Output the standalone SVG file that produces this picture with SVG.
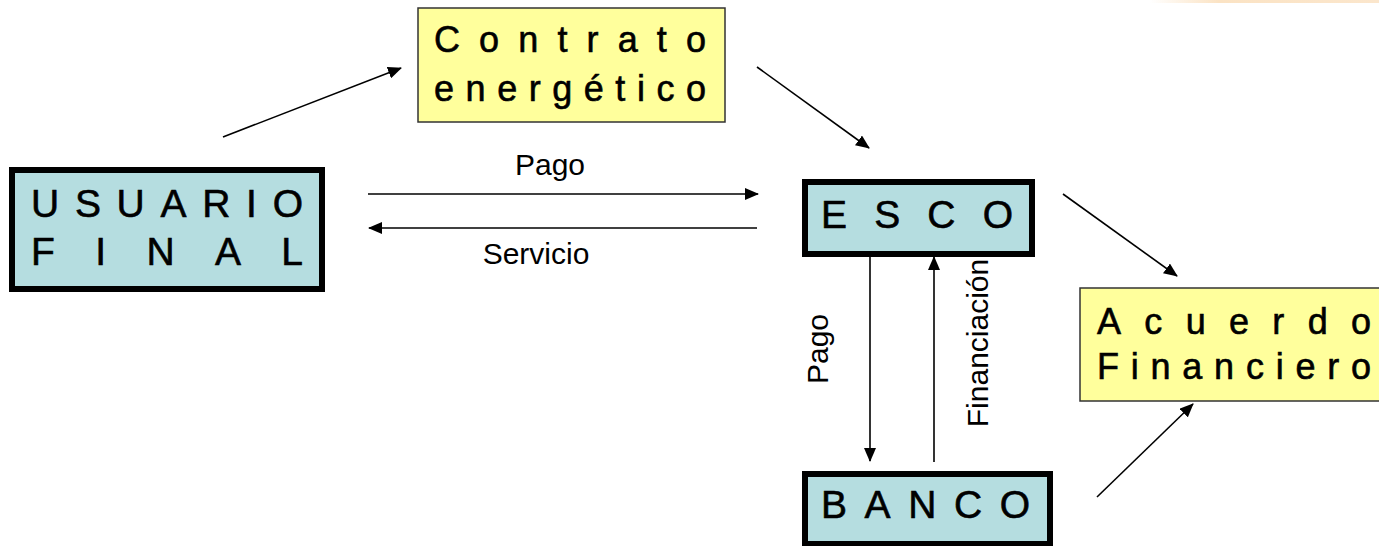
<svg xmlns="http://www.w3.org/2000/svg" width="1379" height="546" viewBox="0 0 1379 546">
<style>
.blue{fill:#B5DDE0;stroke:#000;stroke-width:6}
.yel{fill:#FFFF9C;stroke:#333;stroke-width:1.5}
.big{font-family:"Liberation Sans",Arial,sans-serif;font-size:39px;fill:#000;stroke:#000;stroke-width:0.6}
.mid{font-family:"Liberation Sans",Arial,sans-serif;font-size:36px;fill:#000;stroke:#000;stroke-width:0.6}
.lbl{font-family:"Liberation Sans",Arial,sans-serif;font-size:30px;fill:#000}
.con{stroke:#000;stroke-width:1.6;fill:none;marker-end:url(#ah)}
</style>
<defs>
<marker id="ah" markerUnits="userSpaceOnUse" markerWidth="14" markerHeight="12" refX="13" refY="6" orient="auto">
<path d="M0,0 L14,6 L0,12 Z" fill="#000"/>
</marker>
<linearGradient id="tg" x1="0" x2="1" y1="0" y2="0">
<stop offset="0" stop-color="#FBE3C4" stop-opacity="0"/>
<stop offset="0.3" stop-color="#FBE3C4"/>
<stop offset="1" stop-color="#FBE6CC"/>
</linearGradient>
</defs>
<rect x="0" y="0" width="1379" height="546" fill="#fff"/>
<rect x="1150" y="0" width="229" height="3" fill="url(#tg)"/>

<g id="contrato">
<rect class="yel" x="418" y="8" width="307" height="114"/>
<text class="mid" x="434" y="52" textLength="272" lengthAdjust="spacing">Contrato</text>
<text class="mid" x="434" y="101" textLength="272" lengthAdjust="spacing">energético</text>
</g>

<g id="usuario">
<rect class="blue" x="12" y="170" width="310" height="119"/>
<text class="big" x="31" y="217" textLength="272" lengthAdjust="spacing">USUARIO</text>
<text class="big" x="31" y="265" textLength="272" lengthAdjust="spacing">FINAL</text>
</g>

<g id="esco">
<rect class="blue" x="805" y="182" width="227" height="72"/>
<text class="big" x="821" y="228" textLength="192" lengthAdjust="spacing">ESCO</text>
</g>

<g id="banco">
<rect class="blue" x="805" y="474" width="245" height="70"/>
<text class="big" x="821" y="518" textLength="209" lengthAdjust="spacing">BANCO</text>
</g>

<g id="acuerdo">
<rect class="yel" x="1080" y="288" width="305" height="113"/>
<text class="mid" x="1097" y="334" textLength="274" lengthAdjust="spacing">Acuerdo</text>
<text class="mid" x="1097" y="379" textLength="274" lengthAdjust="spacing">Financiero</text>
</g>

<g id="connectors">
<line class="con" x1="223" y1="137" x2="401" y2="68"/>
<line class="con" x1="757" y1="67" x2="869" y2="148"/>
<line class="con" x1="1063" y1="194" x2="1177" y2="276"/>
<line class="con" x1="1097" y1="497" x2="1193" y2="404"/>
<line class="con" x1="368" y1="194" x2="758" y2="194"/>
<line class="con" x1="757" y1="228" x2="369" y2="228"/>
<line class="con" x1="870" y1="257" x2="870" y2="461"/>
<line class="con" x1="934" y1="462" x2="934" y2="257"/>
<text class="lbl" x="550" y="175" text-anchor="middle">Pago</text>
<text class="lbl" x="536" y="264" text-anchor="middle">Servicio</text>
<text class="lbl" transform="translate(828,349) rotate(-90)" text-anchor="middle">Pago</text>
<text class="lbl" transform="translate(988,343) rotate(-90)" text-anchor="middle">Financiación</text>
</g>
</svg>
